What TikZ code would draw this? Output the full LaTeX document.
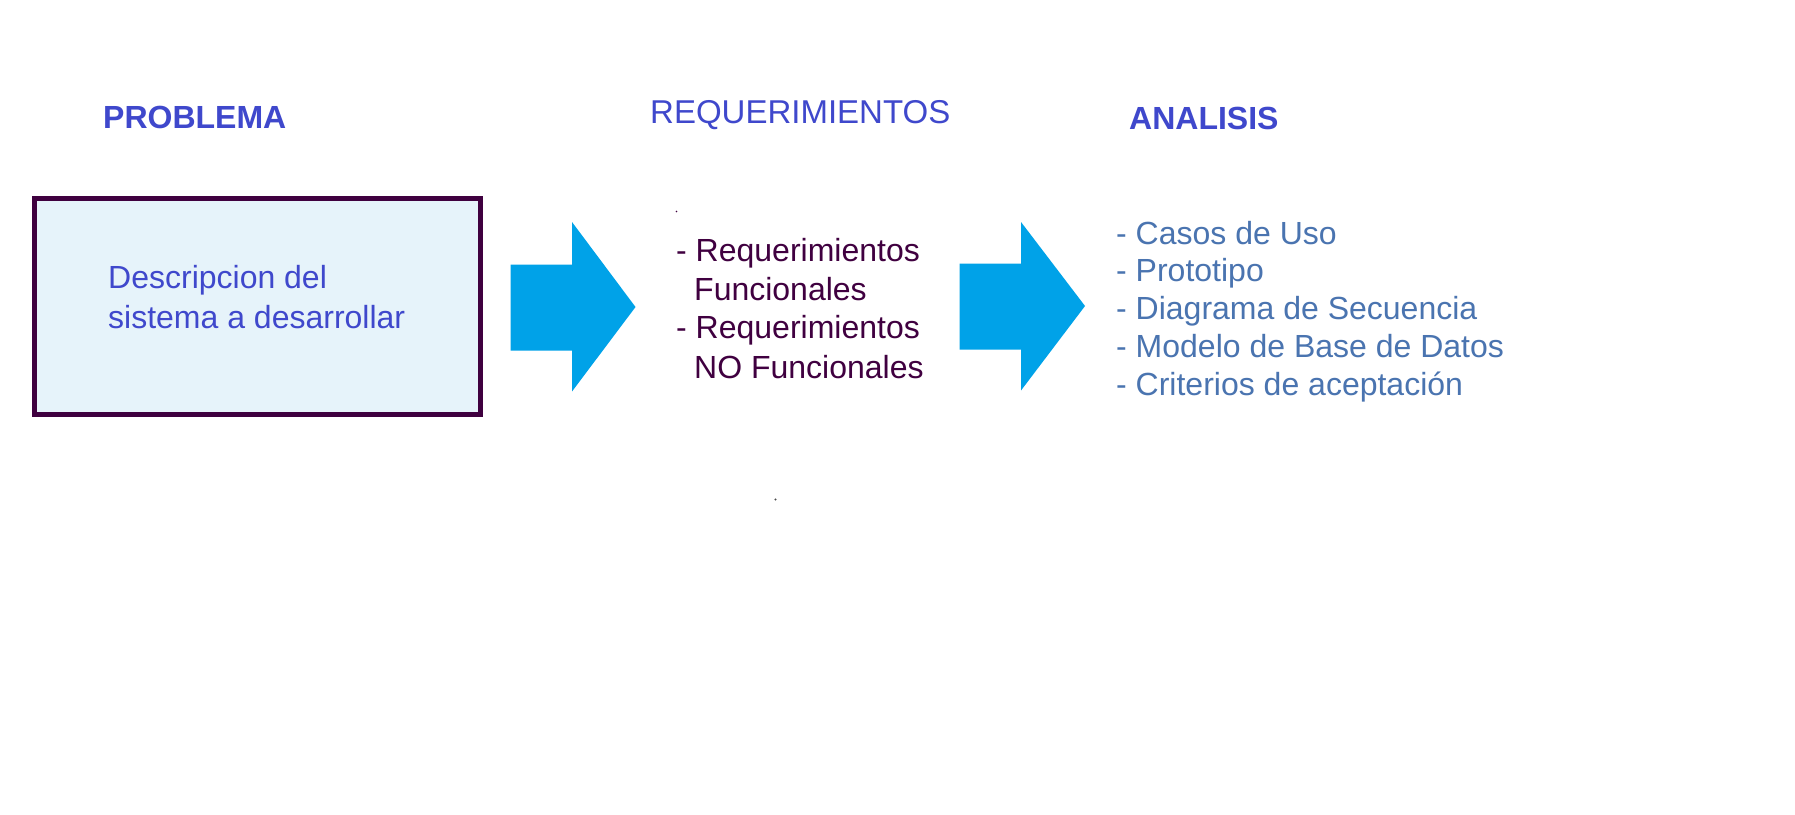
\documentclass[tikz,border=0pt]{standalone}
\usepackage{fontspec}
\setmainfont{Liberation Sans}
\definecolor{titleblue}{HTML}{3F48CC}
\definecolor{boxedge}{HTML}{3F003F}
\definecolor{boxfill}{HTML}{E6F3FA}
\definecolor{arrowblue}{HTML}{00A2E8}
\definecolor{reqtext}{HTML}{400040}
\definecolor{listblue}{HTML}{4A74B0}
\begin{document}
\begin{tikzpicture}[x=1pt,y=-1pt,
  heading/.style={anchor=base west,inner sep=0pt,text=titleblue,font=\fontsize{32}{38}\selectfont\bfseries},
  textline/.style={anchor=base west,inner sep=0pt,font=\fontsize{32}{38}\selectfont},
  bigarrow/.style={fill=arrowblue,draw=none}]
\useasboundingbox (0,0) rectangle (1795,814);
\fill[white] (0,0) rectangle (1795,814);
% headings
\node[heading] (hprob) at (103,128) {PROBLEMA};
\node[heading,font=\fontsize{33}{38}\selectfont] (hreq) at (650,123.5) {REQUERIMIENTOS};
\node[heading] (hanal) at (1129,129) {ANALISIS};
% problem box
\draw[draw=boxedge,fill=boxfill,line width=5pt] (34.5,198.5) rectangle (480,414.5);
\node[textline,text=titleblue] (d1) at (108,288.5) {Descripcion del};
\node[textline,text=titleblue] (d2) at (108,328.5) {sistema a desarrollar};
% arrows
\fill[bigarrow] (510.5,264.5) -- (572,264.5) -- (572,222) -- (635.5,307) -- (572,391.5) -- (572,350.5) -- (510.5,350.5) -- cycle;
\fill[bigarrow] (959.5,263.5) -- (1021,263.5) -- (1021,222) -- (1085,306) -- (1021,390.5) -- (1021,349.5) -- (959.5,349.5) -- cycle;
% requirements
\node[textline,text=reqtext] (r1) at (676,261) {- Requerimientos};
\node[textline,text=reqtext] (r2) at (694,300) {Funcionales};
\node[textline,text=reqtext] (r3) at (676,338.5) {- Requerimientos};
\node[textline,text=reqtext] (r4) at (694,378) {NO Funcionales};
% analysis list
\node[textline,text=listblue] (a1) at (1116,244) {- Casos de Uso};
\node[textline,text=listblue] (a2) at (1116,281.8) {- Prototipo};
\node[textline,text=listblue] (a3) at (1116,319.6) {- Diagrama de Secuencia};
\node[textline,text=listblue] (a4) at (1116,357.4) {- Modelo de Base de Datos};
\node[textline,text=listblue] (a5) at (1116,395.2) {- Criterios de aceptación};
% stray specks
\fill[reqtext] (676.5,211.5) circle (0.9);
\fill[black!70] (775.5,499.5) circle (1.1);
\end{tikzpicture}
\end{document}
